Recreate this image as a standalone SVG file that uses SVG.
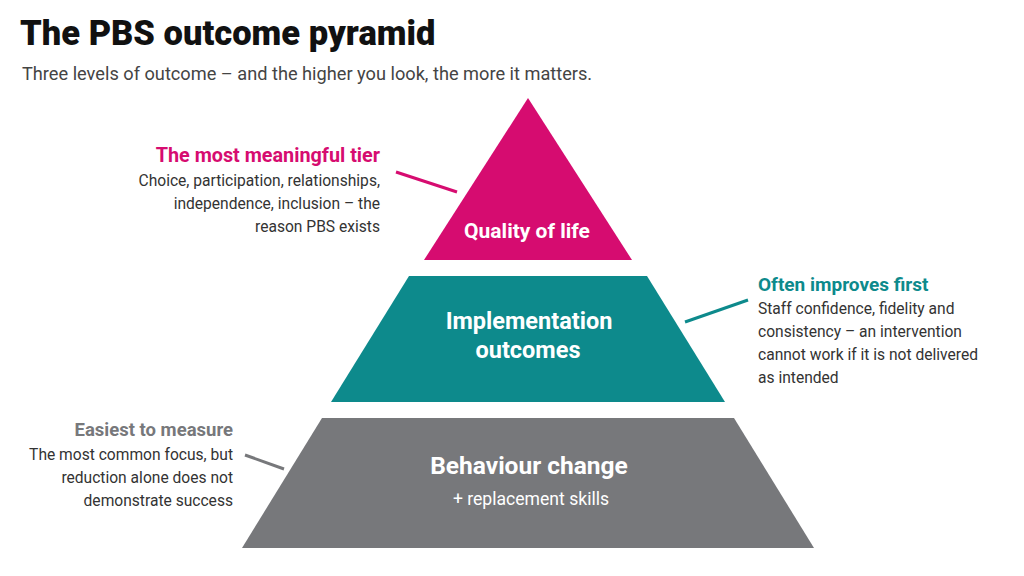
<svg xmlns="http://www.w3.org/2000/svg" width="1024" height="576" viewBox="0 0 1024 576">
<style>
.title{font-family:Roboto,"Liberation Sans",sans-serif;font-weight:900;font-size:34.5px;fill:#111}
.sub{font-family:Roboto,"Liberation Sans",sans-serif;font-size:18.2px;fill:#444}
.head{font-family:Roboto,"Liberation Sans",sans-serif;font-weight:700;font-size:19px}
.body{font-family:Roboto,"Liberation Sans",sans-serif;font-size:15.6px;fill:#333}
.lab{font-family:Roboto,"Liberation Sans",sans-serif;font-weight:700;font-size:23.5px;fill:#fff;text-anchor:middle}
.lab2{font-family:Roboto,"Liberation Sans",sans-serif;font-size:17.6px;fill:#fff;text-anchor:middle}
.r{text-anchor:end}
.conn{stroke-width:3;fill:none}
</style>
<rect width="1024" height="576" fill="#fff"/>
<text class="title" x="20" y="45">The PBS outcome pyramid</text>
<text class="sub" x="22" y="80">Three levels of outcome – and the higher you look, the more it matters.</text>

<g id="quality">
<polygon points="528,98 632,260 424,260" fill="#D60C70"/>
<text class="lab" x="527" y="238" style="font-size:21px">Quality of life</text>
</g>
<g id="implementation">
<polygon points="409,276 647,276 725,402 331,402" fill="#0D8A8C"/>
<text class="lab" x="529" y="329">Implementation</text>
<text class="lab" x="528" y="358">outcomes</text>
</g>
<g id="behaviour">
<polygon points="322,418 734,418 814,548 242,548" fill="#77787B"/>
<text class="lab" x="529" y="474" style="font-size:24.5px">Behaviour change</text>
<text class="lab2" x="531" y="505">+ replacement skills</text>
</g>

<g id="note-top">
<text class="head r" x="380" y="162" fill="#D60C70" style="font-size:19.8px">The most meaningful tier</text>
<text class="body r" x="380" y="186">Choice, participation, relationships,</text>
<text class="body r" x="380" y="209">independence, inclusion – the</text>
<text class="body r" x="380" y="232">reason PBS exists</text>
</g>
<g id="note-mid">
<text class="head" x="758" y="291" fill="#0D8A8C">Often improves first</text>
<text class="body" x="758" y="314">Staff confidence, fidelity and</text>
<text class="body" x="758" y="337">consistency – an intervention</text>
<text class="body" x="758" y="360">cannot work if it is not delivered</text>
<text class="body" x="758" y="383">as intended</text>
</g>
<g id="note-bottom">
<text class="head r" x="233" y="436" fill="#77787B" style="font-size:18.5px">Easiest to measure</text>
<text class="body r" x="233" y="460">The most common focus, but</text>
<text class="body r" x="233" y="483">reduction alone does not</text>
<text class="body r" x="233" y="506">demonstrate success</text>
</g>

<g id="connectors">
<line class="conn" x1="396" y1="172" x2="457" y2="192" stroke="#D60C70"/>
<line class="conn" x1="685" y1="322" x2="748" y2="300" stroke="#0D8A8C"/>
<line class="conn" x1="245" y1="455" x2="284" y2="469" stroke="#77787B"/>
</g>
</svg>
